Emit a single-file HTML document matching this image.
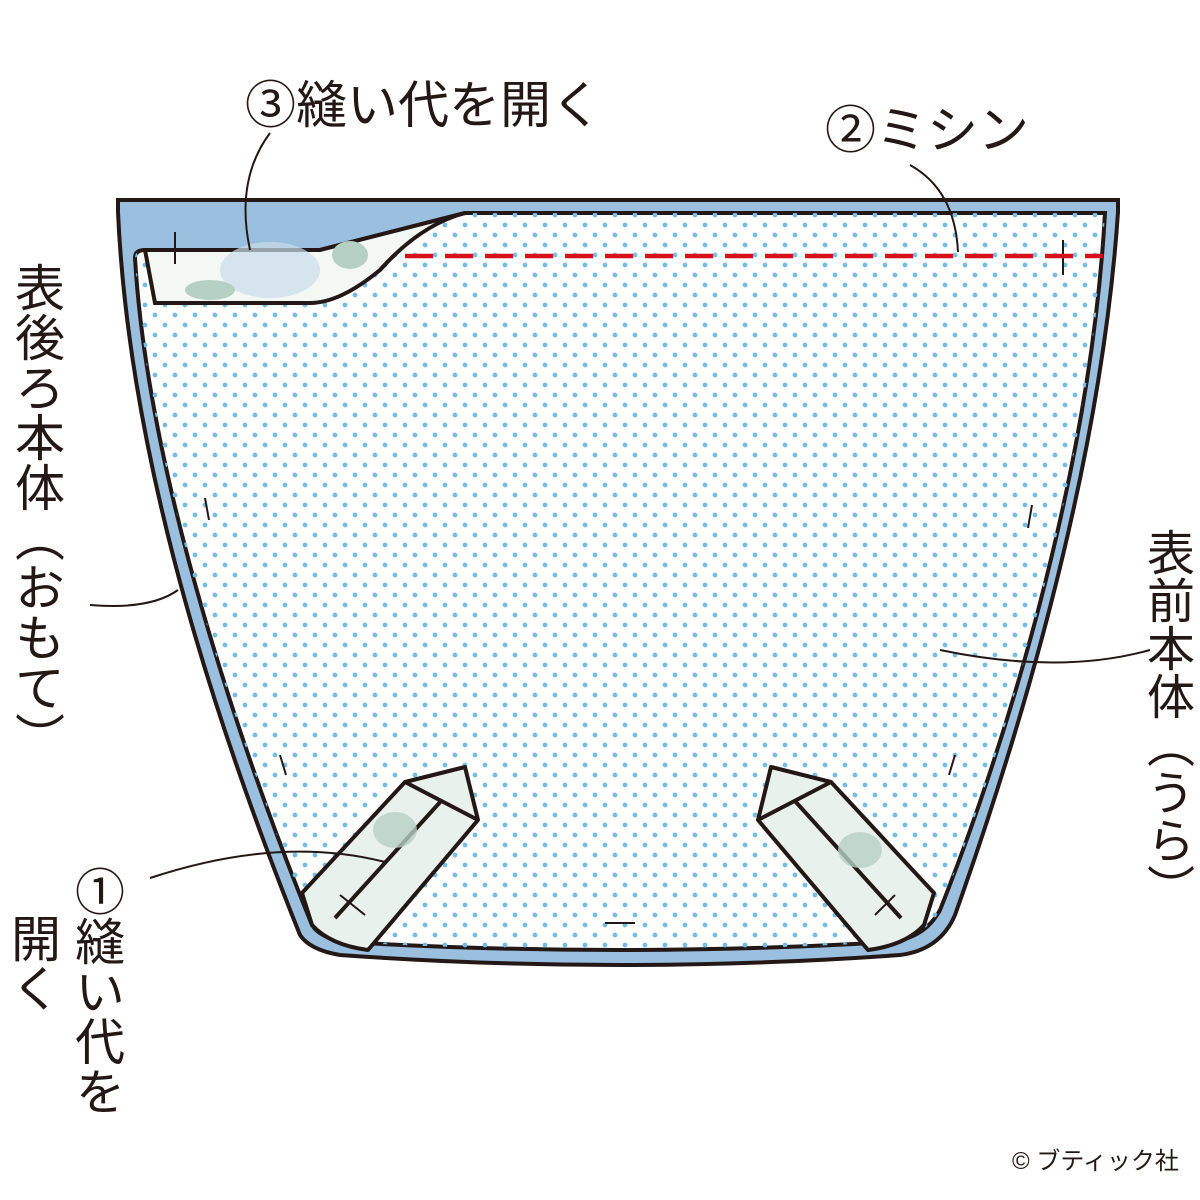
<!DOCTYPE html>
<html><head><meta charset="utf-8"><style>
body{margin:0;width:1200px;height:1200px;background:#fff;position:relative;overflow:hidden;font-family:"Liberation Sans","Noto Sans CJK JP",sans-serif;color:#231815}
.v{position:absolute;writing-mode:vertical-rl;line-height:1;white-space:nowrap}
.h{position:absolute;line-height:1;white-space:nowrap}
svg{position:absolute;left:0;top:0}
</style></head><body>
<svg width="1200" height="1200" viewBox="0 0 1200 1200">
<defs>
<pattern id="dots" width="20" height="20" patternUnits="userSpaceOnUse">
<circle cx="5" cy="5" r="2.4" fill="#74bde6"/><circle cx="15" cy="15" r="2.4" fill="#74bde6"/>
</pattern>
</defs>
<path d="M118,200 H1118 V212 C1100,480 1010,760 955,915 Q940,950 900,955 Q620,975 340,955 Q310,950 300,935 C230,760 130,480 118,212 Z" fill="#9bbfdf" stroke="#231815" stroke-width="4"/>
<path d="M465,213 H1105 C1090,480 1000,760 940,910 Q925,938 890,942 Q620,958 345,942 Q320,938 312,925 C245,760 148,480 135,258 Q135,250 145,250 H320 Q380,235 465,213 Z" fill="#fff" stroke="#231815" stroke-width="4"/>
<path d="M465,213 H1105 C1090,480 1000,760 940,910 Q925,938 890,942 Q620,958 345,942 Q320,938 312,925 C245,760 148,480 135,258 Q135,250 145,250 H320 Q380,235 465,213 Z" fill="url(#dots)"/>
<path d="M145,250 H320 Q380,235 465,213 Q420,225 380,270 Q340,303 310,303 H155 Z" fill="#f4f8f5" stroke="#231815" stroke-width="4"/>
<ellipse cx="270" cy="270" rx="50" ry="28" fill="#c9dde9" opacity=".7"/>
<ellipse cx="210" cy="290" rx="25" ry="10" fill="#b6d1c4"/>
<ellipse cx="350" cy="255" rx="18" ry="14" fill="#b6d1c4"/>
<line x1="175" y1="232" x2="175" y2="264" stroke="#231815" stroke-width="2"/>
<line x1="1063" y1="240" x2="1063" y2="275" stroke="#231815" stroke-width="2"/>
<line x1="405" y1="256" x2="1103" y2="256" stroke="#d7101b" stroke-width="4.5" stroke-dasharray="28,12"/>
<g stroke="#231815" stroke-width="4" stroke-linejoin="round">
<path d="M302,893 L405,782 L465,767 L478,820 L368,950 Q330,945 312,925 Z" fill="#e9f1ec"/>
<path d="M405,782 L478,820" fill="none"/>
<path d="M335,918 L442,800" fill="none"/>
<path d="M934,893 L831,782 L771,767 L758,820 L868,950 Q906,945 924,925 Z" fill="#e9f1ec"/>
<path d="M831,782 L758,820" fill="none"/>
<path d="M901,918 L794,800" fill="none"/>
</g>
<ellipse cx="395" cy="830" rx="22" ry="18" fill="#b6d1c4" opacity=".8"/>
<ellipse cx="860" cy="850" rx="22" ry="18" fill="#b6d1c4" opacity=".8"/>
<g stroke="#231815" stroke-width="2" fill="none">
<line x1="340" y1="895" x2="365" y2="915"/>
<line x1="895" y1="895" x2="875" y2="915"/>
<line x1="205" y1="498" x2="209" y2="520"/>
<line x1="1032" y1="505" x2="1028" y2="528"/>
<line x1="280" y1="755" x2="286" y2="775"/>
<line x1="955" y1="755" x2="949" y2="775"/>
<line x1="605" y1="923" x2="635" y2="923"/>
<path d="M270,133 Q235,180 250,250"/>
<path d="M910,165 Q955,190 958,252"/>
<path d="M90,605 Q150,610 178,590"/>
<path d="M1150,650 Q1060,675 940,650"/>
<path d="M150,878 Q280,835 385,862"/>
</g>
</svg>
<div class="h" style="left:245px;top:80px;font-size:51px">③縫い代を開く</div>
<div class="h" style="left:825px;top:105px;font-size:51px">②ミシン</div>
<div class="v" style="left:11px;top:262px;font-size:50px">表後ろ本体（おもて）</div>
<div class="v" style="left:1141px;top:528px;font-size:48px">表前本体（うら）</div>
<div class="v" style="left:71px;top:866px;font-size:50px">①縫い代を</div>
<div class="v" style="left:7px;top:913px;font-size:50px">開く</div>
<div class="h" style="left:1012px;top:1150px;font-size:24px">© ブティック社</div>
</body></html>
